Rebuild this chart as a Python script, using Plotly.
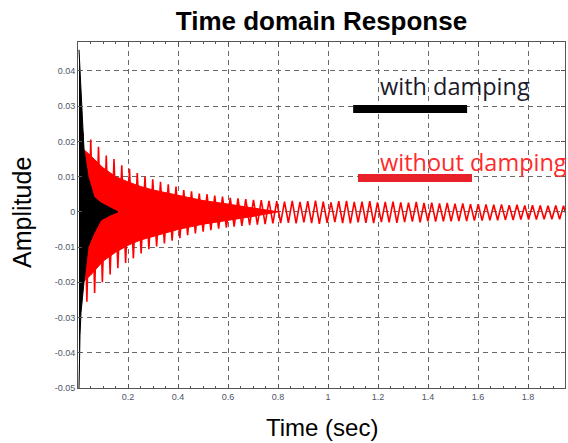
import plotly.graph_objects as go

# ---------------- data ----------------
# Red ("without damping"): per-cycle extrema; cycle period ~0.031 s from t=0.02
red_t0 = 0.02
red_period = 0.031
red_max = [0.0225, 0.0205, 0.0185, 0.0160, 0.0150, 0.0132, 0.0122, 0.0110, 0.0100, 0.0092,
           0.0085, 0.0078, 0.0072, 0.0062, 0.0058, 0.0052, 0.0050, 0.0046, 0.0043, 0.0040,
           0.0038, 0.0036, 0.0034, 0.0033, 0.0031, 0.0030, 0.0029, 0.0031, 0.0028, 0.0030,
           0.0032, 0.0029, 0.0027, 0.0030, 0.0031, 0.0028, 0.0029, 0.0030, 0.0027, 0.0028,
           0.0029, 0.0027, 0.0026, 0.0028, 0.0025, 0.0026, 0.0024, 0.0025, 0.0023, 0.0024,
           0.0022, 0.0022, 0.0021, 0.0020, 0.0021, 0.0019, 0.0020, 0.0018, 0.0019, 0.0018,
           0.0017, 0.0018, 0.0017]
red_min = [-0.0255, -0.0230, -0.0200, -0.0178, -0.0160, -0.0145, -0.0132, -0.0118, -0.0106, -0.0098,
           -0.0090, -0.0082, -0.0075, -0.0066, -0.0061, -0.0056, -0.0052, -0.0048, -0.0045, -0.0042,
           -0.0040, -0.0038, -0.0036, -0.0035, -0.0033, -0.0032, -0.0031, -0.0033, -0.0030, -0.0032,
           -0.0034, -0.0031, -0.0029, -0.0032, -0.0033, -0.0030, -0.0031, -0.0032, -0.0029, -0.0030,
           -0.0031, -0.0029, -0.0028, -0.0030, -0.0027, -0.0028, -0.0027, -0.0027, -0.0026, -0.0026,
           -0.0025, -0.0025, -0.0024, -0.0024, -0.0023, -0.0023, -0.0022, -0.0022, -0.0022, -0.0021,
           -0.0021, -0.0021, -0.0020]

# Red dense (high-frequency) core band in the early part
red_band_t = [0.018, 0.05, 0.10, 0.15, 0.20, 0.25, 0.30, 0.35, 0.40, 0.50, 0.60, 0.70, 0.80]
red_band_up = [0.018, 0.016, 0.0125, 0.010, 0.0085, 0.0072, 0.0062, 0.0054, 0.0046, 0.0032, 0.0022, 0.0012, 0.0]
red_band_lo = [-0.020, -0.018, -0.014, -0.0115, -0.0095, -0.0080, -0.0068, -0.0060, -0.0050, -0.0035, -0.0024, -0.0013, 0.0]

# Black ("with damping"): envelope of a fast, strongly damped response
black_t = [0.004, 0.008, 0.012, 0.024, 0.040, 0.064, 0.092, 0.132, 0.160]
black_up = [0.046, 0.040, 0.0345, 0.0176, 0.010, 0.0042, 0.0025, 0.0011, 0.0]
black_lo = [-0.050, -0.035, -0.0286, -0.020, -0.010, -0.006, -0.0023, -0.0008, 0.0]

x_tickvals = [0.2, 0.4, 0.6, 0.8, 1.0, 1.2, 1.4, 1.6, 1.8]
x_ticktext = ["0.2", "0.4", "0.6", "0.8", "1", "1.2", "1.4", "1.6", "1.8"]
y_tickvals = [0.04, 0.03, 0.02, 0.01, 0.0, -0.01, -0.02, -0.03, -0.04, -0.05]
y_ticktext = ["0.04", "0.03", "0.02", "0.01", "0", "-0.01", "-0.02", "-0.03", "-0.04", "-0.05"]

# ---------------- build traces ----------------
zig_x, zig_y = [], []
for k, (hi, lo) in enumerate(zip(red_max, red_min)):
    t = red_t0 + k * red_period
    zig_x += [t, t + red_period / 2]
    zig_y += [hi, lo]

fig = go.Figure()
fig.add_trace(go.Scatter(
    x=red_band_t + red_band_t[::-1], y=red_band_up + red_band_lo[::-1],
    fill="toself", fillcolor="#ff0000", line=dict(color="#ff0000", width=1),
    mode="lines", hoverinfo="skip", showlegend=False))
fig.add_trace(go.Scatter(
    x=zig_x, y=zig_y, mode="lines", line=dict(color="#ff0000", width=1.6),
    showlegend=False))
fig.add_trace(go.Scatter(
    x=black_t + black_t[::-1], y=black_up + black_lo[::-1],
    fill="toself", fillcolor="#000000", line=dict(color="#000000", width=1),
    mode="lines", hoverinfo="skip", showlegend=False))

grid = dict(showgrid=True, gridcolor="#6a6a6a", gridwidth=1.2, griddash="5px,4px",
            zeroline=False, showline=True, linecolor="#555555", linewidth=1,
            mirror="ticks", ticks="inside", ticklen=4, tickcolor="#555555",
            tickfont=dict(family="Liberation Sans, Arial", size=9, color="#4d5566"))

fig.update_xaxes(range=[0, 1.948], tickvals=x_tickvals, ticktext=x_ticktext,
                 minor=dict(dtick=0.05, ticks="inside", ticklen=2, tickcolor="#555555", showgrid=False),
                 **grid)
fig.update_yaxes(range=[-0.05, 0.0482], tickvals=y_tickvals, ticktext=y_ticktext, **grid)

fig.update_layout(
    width=568, height=443,
    margin=dict(l=78, r=3, t=42, b=55),
    paper_bgcolor="white", plot_bgcolor="white",
    title=dict(text="<b>Time domain Response</b>", x=0.566, xanchor="center",
               y=1 - 21 / 443, yanchor="middle",
               font=dict(family="Liberation Sans, Arial", size=26, color="#000000")),
    annotations=[
        dict(text="Time (sec)", xref="paper", yref="paper", x=0.5, y=-0.114,
             xanchor="center", yanchor="middle", showarrow=False,
             font=dict(family="Liberation Sans, Arial", size=24, color="#000000")),
        dict(text="Amplitude", xref="paper", yref="paper", x=-0.115, y=0.509,
             xanchor="center", yanchor="middle", textangle=-90, showarrow=False,
             font=dict(family="Liberation Sans, Arial", size=25, color="#000000")),
        dict(text="with damping", xref="paper", yref="paper", x=0.616, y=0.872,
             xanchor="left", yanchor="middle", showarrow=False,
             font=dict(family="Open Sans", size=23.5, color="#1a1a2a")),
        dict(text="without damping", xref="paper", yref="paper", x=0.616, y=0.652,
             xanchor="left", yanchor="middle", showarrow=False,
             font=dict(family="Open Sans", size=23.5, color="#ff2a2a")),
    ],
    shapes=[
        dict(type="line", xref="paper", yref="paper", x0=0.565, x1=0.799, y0=0.806, y1=0.806,
             line=dict(color="#000000", width=8)),
        dict(type="line", xref="paper", yref="paper", x0=0.575, x1=0.809, y0=0.607, y1=0.607,
             line=dict(color="#e8202a", width=8)),
    ],
)

fig.write_html("out.html", config={"displayModeBar": False},
               post_script="document.body.style.margin='0';")
